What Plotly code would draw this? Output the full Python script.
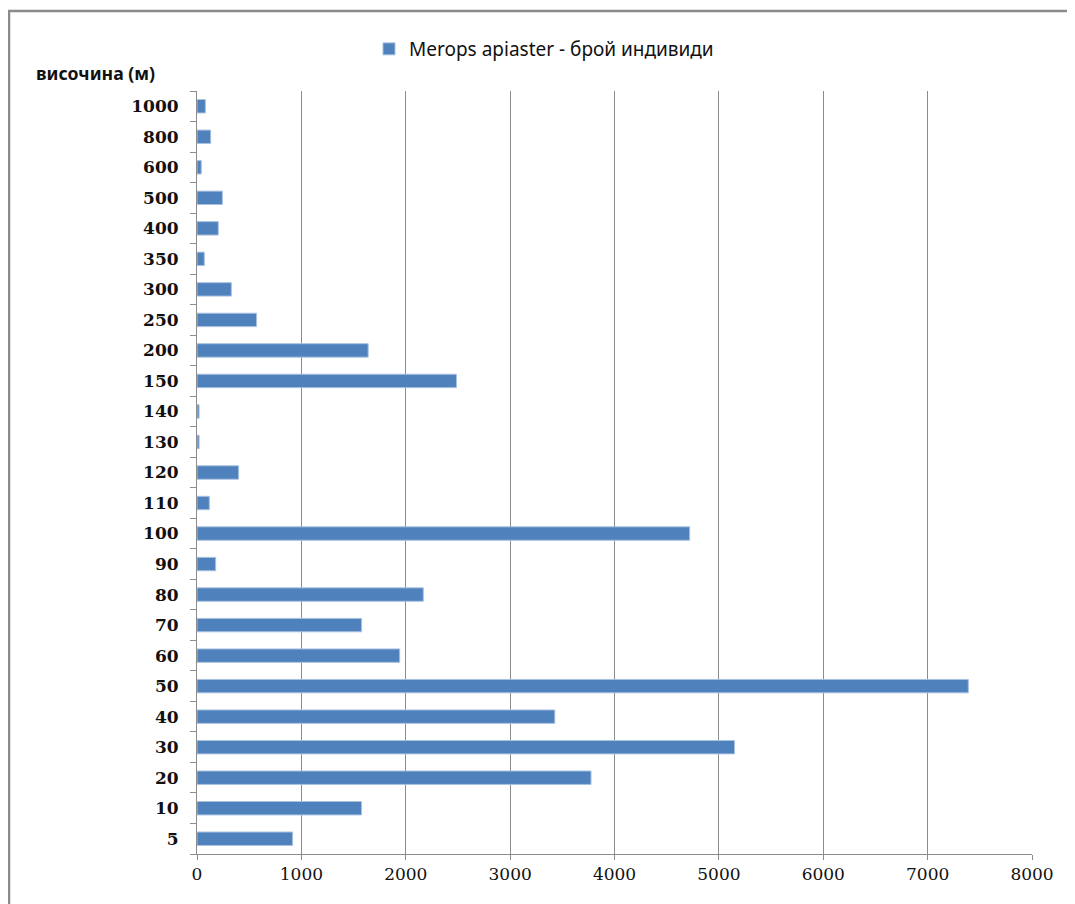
import plotly.graph_objects as go

heights = ["5", "10", "20", "30", "40", "50", "60", "70", "80", "90", "100",
           "110", "120", "130", "140", "150", "200", "250", "300", "350",
           "400", "500", "600", "800", "1000"]
counts = [916, 1576, 3775, 5150, 3428, 7390, 1942, 1577, 2168, 179, 4720,
          118, 399, 20, 20, 2486, 1640, 571, 329, 70,
          204, 243, 41, 131, 80]
x_ticks = [0, 1000, 2000, 3000, 4000, 5000, 6000, 7000, 8000]
series_name = "Merops apiaster - брой индивиди"
y_title = "височина (м)"

OFF = 7  # page offset of the rendered figure
W, H = 1075, 904
L, R, T, B = 196 - OFF, 1031 - OFF, 90 - OFF, 853 - OFF
pw, ph = R - L, B - T

def px_x(p):
    return (p - OFF - L) / pw

def px_y(p):
    return (B - (p - OFF)) / ph

fig = go.Figure()
fig.add_trace(go.Bar(
    y=heights, x=counts, orientation="h", name=series_name,
    marker=dict(color="#4F81BD", line=dict(color="#A9C2E0", width=1)),
    showlegend=True,
))

fig.update_layout(
    width=W, height=H,
    margin=dict(l=L, r=W - R, t=T, b=H - B),
    paper_bgcolor="white", plot_bgcolor="white",
    bargap=0.56,
    showlegend=True,
    legend=dict(orientation="h", x=px_x(543), xanchor="center",
                y=px_y(48), yanchor="middle",
                font=dict(family="Noto Sans", size=19, color="#111"),
                itemwidth=30, bgcolor="rgba(0,0,0,0)"),
    xaxis=dict(range=[0, 8000], tickvals=x_ticks, ticktext=[str(v) for v in x_ticks],
               showgrid=True, gridcolor="#8C8C8C", gridwidth=1,
               showline=True, linecolor="#8C8C8C", linewidth=1,
               ticks="outside", ticklen=5, tickcolor="#8C8C8C",
               tickfont=dict(family="DejaVu Serif", size=17, color="#111"),
               zeroline=False, fixedrange=True),
    yaxis=dict(type="category", categoryorder="array", categoryarray=heights,
               showgrid=False, showline=True, linecolor="#8C8C8C", linewidth=1,
               ticks="outside", ticklen=6, tickcolor="#8C8C8C",
               tickson="boundaries",
               tickfont=dict(family="DejaVu Serif", size=17, color="#111",
                             weight="bold"),
               ticklabelstandoff=14),
    font=dict(family="DejaVu Serif"),
)

fig.add_annotation(text="<b>" + y_title + "</b>", xref="paper", yref="paper",
                   x=px_x(33), y=px_y(72), xanchor="left", yanchor="middle",
                   showarrow=False,
                   font=dict(family="Noto Sans", size=17.7, color="#111"))

fig.add_shape(type="rect", xref="paper", yref="paper",
              x0=px_x(8), x1=px_x(1100), y0=px_y(930), y1=px_y(10),
              line=dict(color="#8A8A8A", width=2.5), layer="below")

fig.write_html("out.html")
